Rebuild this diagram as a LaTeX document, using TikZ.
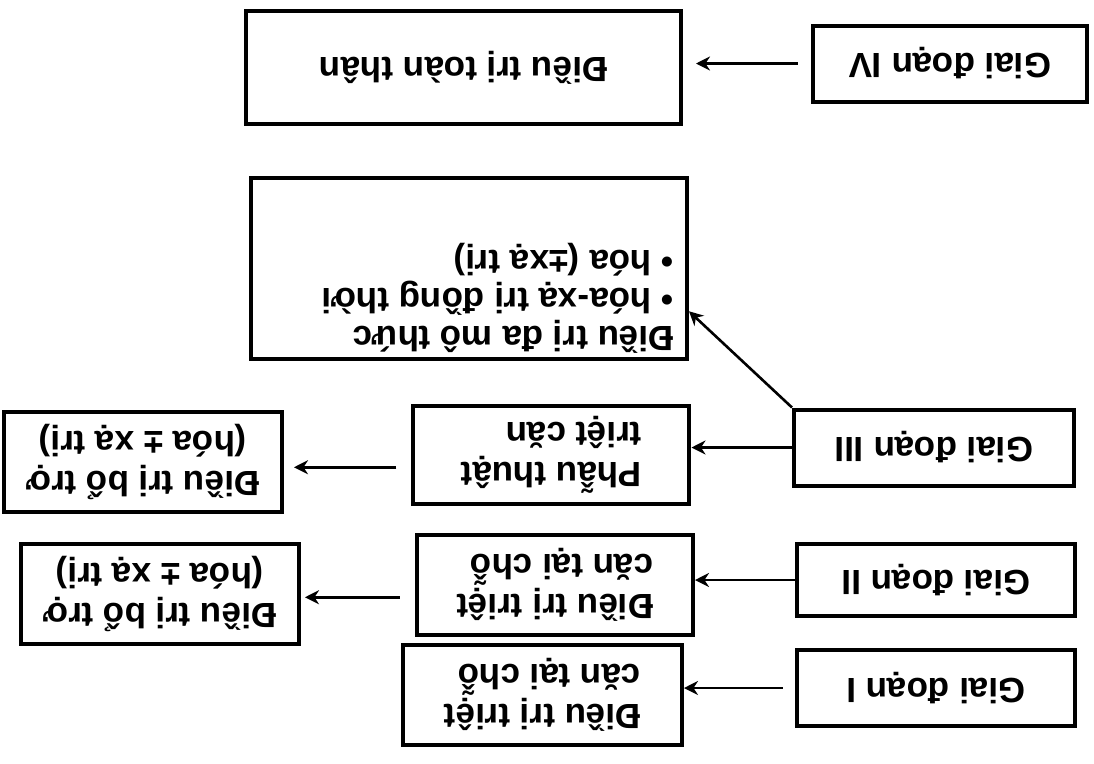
\documentclass[tikz,border=0pt]{standalone}
\usepackage{fontspec}
\setmainfont{Liberation Sans}
\usetikzlibrary{arrows.meta}

\begin{document}
\begin{tikzpicture}[
    x=1pt, y=1pt,
    rotate=180, transform shape,
    stagebox/.style={rectangle, draw=black, line width=4pt, minimum width=278pt, minimum height=76pt, font=\fontsize{35}{40}\selectfont\bfseries},
    treatbox/.style={rectangle, draw=black, line width=4pt, minimum width=276pt, minimum height=100pt, align=left, font=\fontsize{35}{40}\selectfont\bfseries},
    arrow/.style={-{Stealth[length=14pt, width=14pt]}, line width=2.6pt}
]
    \useasboundingbox (0,0) rectangle (1094,763);

    % stages, top to bottom
    \node[stagebox] (g1) at (158,688) {Giai đoạn I};
    \node[stagebox, minimum height=72pt] (g2) at (158,580) {Giai đoạn II};
    \node[stagebox, minimum width=280pt] (g3) at (160,447.5) {Giai đoạn III};
    \node[stagebox, minimum width=274pt] (g4) at (144,63.5) {Giai đoạn IV};

    % treatments
    \node[treatbox, minimum width=279pt] (tc1) at (551.5,695) {Điều trị triệt\\căn tại chỗ};
    \node[treatbox] (tc2) at (539,585) {Điều trị triệt\\căn tại chỗ};
    \node[treatbox, minimum height=98pt] (phau) at (542.5,455) {Phẫu thuật\\triệt căn};
    \node[treatbox, minimum width=278pt, align=center] (botro2) at (934,594) {Điều trị bổ trợ\\(hóa ± xạ trị)};
    \node[treatbox, minimum width=278pt, align=center] (botro3) at (951,462) {Điều trị bổ trợ\\(hóa ± xạ trị)};
    \node[treatbox, minimum width=436pt, minimum height=181pt] (multi) at (625,268.5) {};
    \node[anchor=north west, inner sep=0pt, align=left, font=\fontsize{35}{38}\selectfont\bfseries] (multitext) at (420,354)
        {Điều trị đa mô thức\\\textbullet\ hóa-xạ trị đồng thời\\\textbullet\ hóa (±xạ trị)};
    \node[treatbox, minimum width=435pt, minimum height=113pt] (toanthan) at (630.5,67.5) {Điều trị toàn thân};

    % connectors
    \draw[arrow, shorten <=12pt] (g1.east) -- (g1.east -| tc1.west);
    \draw[arrow] (g2.east) -- (g2.east -| tc2.west);
    \draw[arrow] (g3.east) -- (g3.east -| phau.west);
    \draw[arrow] (g3.south east) -- (multi.169);
    \draw[arrow, shorten <=15pt, shorten >=10pt] (phau.5) -- (phau.5 -| botro3.west);
    \draw[arrow, shorten <=15pt, shorten >=4pt] (tc2.5) -- (tc2.5 -| botro2.west);
    \draw[arrow, shorten <=13pt, shorten >=13pt] (g4.east) -- (g4.east -| toanthan.west);
\end{tikzpicture}
\end{document}
